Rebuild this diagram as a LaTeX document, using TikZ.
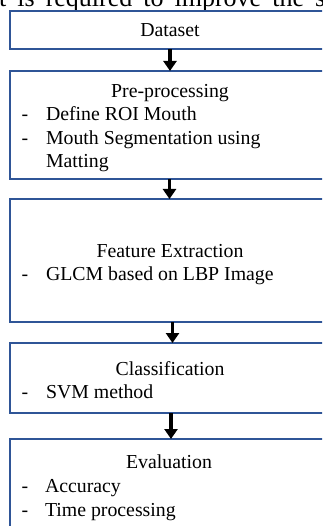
\documentclass[tikz,border=0pt]{standalone}
\usepackage{fontspec}
\setmainfont{Liberation Serif}
\usetikzlibrary{arrows.meta}
\definecolor{boxblue}{RGB}{47,85,151}
\begin{document}
\begin{tikzpicture}[x=1pt,y=-1pt,
  stepbox/.style={draw=boxblue, line width=1.1pt, anchor=north west, minimum width=330pt, inner sep=0pt, outer sep=0pt},
  txt/.style={inner sep=0pt, outer sep=0pt, font=\fontsize{19.8}{23.5}\selectfont},
  title/.style={txt, anchor=base},
  item/.style={txt, anchor=base west},
  dashmark/.style={txt, anchor=base},
  flow/.style={-{Triangle[width=13pt,length=10pt]}, line width=3.6pt, black}]
\useasboundingbox (0,0) rectangle (322,526);
\clip (0,0) rectangle (322,526);

% partial heading text cut off at the top
\node[anchor=base west, inner sep=0pt, font=\fontsize{26}{30}\selectfont] (head) at (-1,7) {\spaceskip=11pt\relax t is required to improve the s};

% boxes
\node[stepbox, minimum height=38pt]  (b1) at (10,11) {};
\node[stepbox, minimum height=108pt] (b2) at (10,71) {};
\node[stepbox, minimum height=123pt] (b3) at (10,199) {};
\node[stepbox, minimum height=70pt]  (b4) at (10,343) {};
\node[stepbox, minimum height=110pt] (b5) at (10,439) {};

% texts
\node[title] (t1) at (170,37) {Dataset};

\node[title] (t2) at (170,97.5) {Pre-processing};
\node[dashmark] (d21) at (25,121) {-};
\node[item] (i21) at (46,121) {Define ROI Mouth};
\node[dashmark] (d22) at (25,145) {-};
\node[item] (i22) at (46,145) {Mouth Segmentation using};
\node[item] (i23) at (46,168) {Matting};

\node[title] (t3) at (170,257.5) {Feature Extraction};
\node[dashmark] (d31) at (25,280.5) {-};
\node[item] (i31) at (46,280.5) {GLCM based on LBP Image};

\node[title] (t4) at (170,375) {Classification};
\node[dashmark] (d41) at (25,398.5) {-};
\node[item] (i41) at (46,398.5) {SVM method};

\node[title] (t5) at (169,468.5) {Evaluation};
\node[dashmark] (d51) at (25,492) {-};
\node[item] (i51) at (45,492) {Accuracy};
\node[dashmark] (d52) at (25,516) {-};
\node[item] (i52) at (45,516) {Time processing};

% arrows
\coordinate (ax1) at (170,0);
\coordinate (ax2) at (169.5,0);
\coordinate (ax3) at (172.5,0);
\coordinate (ax4) at (171,0);
\draw[flow] (b1.south -| ax1) -- (b2.north -| ax1);
\draw[flow] (b2.south -| ax2) -- (b3.north -| ax2);
\draw[flow] (b3.south -| ax3) -- (b4.north -| ax3);
\draw[flow] (b4.south -| ax4) -- (b5.north -| ax4);
\end{tikzpicture}
\end{document}
